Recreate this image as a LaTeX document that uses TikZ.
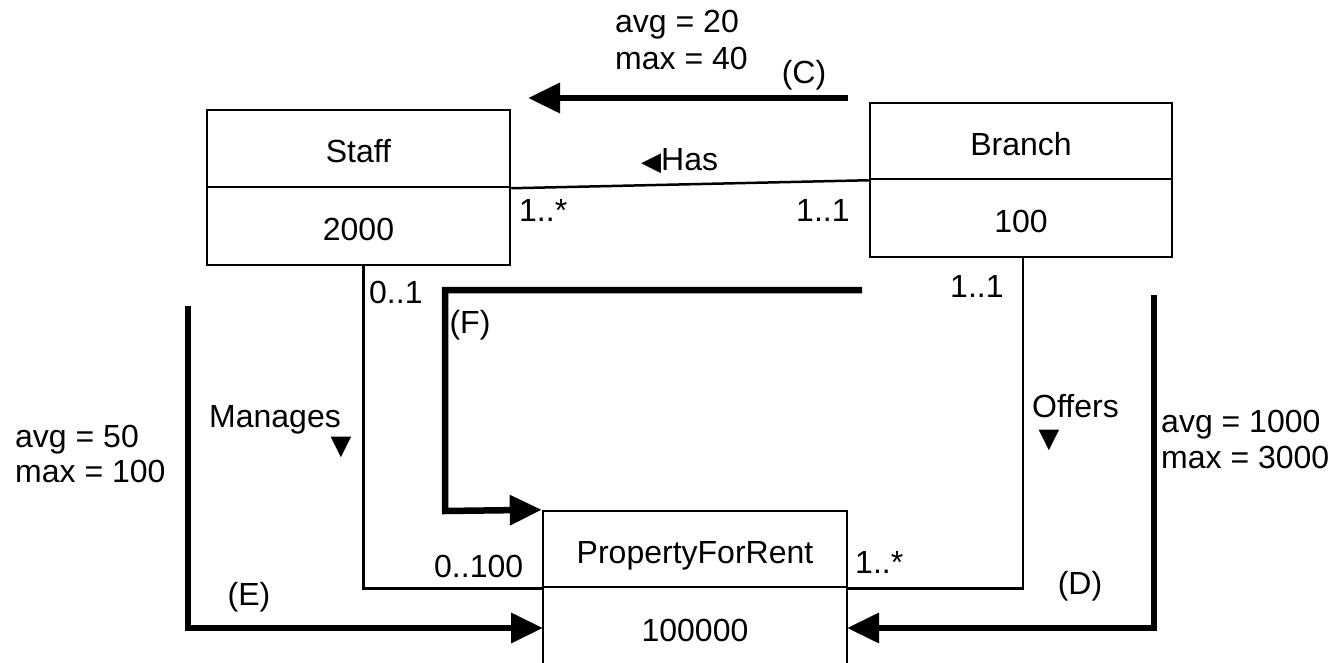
\documentclass[tikz,border=0pt]{standalone}
\usepackage{fontspec}
\setmainfont{Liberation Sans}
\newfontfamily\symf{DejaVu Sans}
\usetikzlibrary{arrows.meta,calc}
\tikzset{
  lbl/.style={inner sep=0pt, font=\fontsize{32}{36}\selectfont},
  part/.style={draw, line width=2.5pt, inner sep=0pt, minimum width=303pt,
    text height=32pt, text depth=3pt, font=\fontsize{32}{36}\selectfont},
  assoc/.style={line width=2.5pt},
  bigarrow/.style={line width=6.5pt, -{Triangle[length=32pt,width=29pt]}},
  tri/.style={inner sep=0pt, font=\symf\fontsize{27}{27}\selectfont}
}
\begin{document}
\begin{tikzpicture}[x=1pt,y=-1pt]
\useasboundingbox (0,0) rectangle (1344,663);
% classes
\node[part, minimum height=77pt] (staffT) at (358.5,148.5) {Staff};
\node[part, minimum height=78pt] (staffC) at (358.5,226) {2000};
\node[part, minimum height=76pt, minimum width=302pt] (branchT) at (1021,141) {Branch};
\node[part, minimum height=78pt, minimum width=302pt] (branchC) at (1021,218) {100};
\node[part, minimum height=76pt, minimum width=304pt] (pfrT) at (695,549) {PropertyForRent};
\node[part, minimum height=80pt, minimum width=304pt] (pfrC) at (695,627) {100000};
% associations
\draw[assoc] (staffT.south east) -- (branchT.south west);
\draw[assoc] ($(staffC.south)+(5,0)$) |- (pfrT.south west);
\draw[assoc] ($(branchC.south)+(2,0)$) |- (pfrT.south east);
% access paths
\coordinate (cS) at (848,98);
\coordinate (cE) at (528,98);
\coordinate (fS) at (862,290);
\coordinate (fC) at (445,511);
\coordinate (eS) at (188,306);
\coordinate (eT) at (543,628);
\coordinate (dS) at (1154,295);
\coordinate (dT) at (847,628);
\draw[bigarrow] (cS) -- (cE);
\draw[bigarrow] (fS) -| (fC) -- (pfrT.north west);
\draw[bigarrow] (eS) |- (eT);
\draw[bigarrow] (dS) |- (dT);
% labels
\node[lbl, anchor=base west] (avgC) at (615,33) {avg = 20};
\node[lbl, anchor=base west] (maxC) at (615,70) {max = 40};
\node[lbl] (labC) at (804,75) {(C)};
\node[lbl, anchor=base west] (has) at (641,171) {{\symf\fontsize{26}{26}\selectfont ◀}Has};
\node[lbl, anchor=base west] (m1) at (519,222) {1..*};
\node[lbl, anchor=base west] (m2) at (796,222) {1..1};
\node[lbl, anchor=base west] (m3) at (369,303) {0..1};
\node[lbl] (labF) at (470,325) {(F)};
\node[lbl, anchor=base west] (manages) at (209,427) {Manages};
\node[tri] (t1) at (341,447) {▼};
\node[lbl, anchor=base west] (avgE) at (15,447) {avg = 50};
\node[lbl, anchor=base west] (maxE) at (15,482) {max = 100};
\node[lbl, anchor=base west] (m4) at (434,577) {0..100};
\node[lbl] (labE) at (249,597) {(E)};
\node[lbl, anchor=base west] (m5) at (855,573) {1..*};
\node[lbl, anchor=base west] (m6) at (950,297) {1..1};
\node[lbl, anchor=base west] (offers) at (1032,417) {Offers};
\node[tri] (t2) at (1049,440) {▼};
\node[lbl, anchor=base west] (avgD) at (1161,432) {avg = 1000};
\node[lbl, anchor=base west] (maxD) at (1161,468) {max = 3000};
\node[lbl] (labD) at (1080,586) {(D)};
\end{tikzpicture}
\end{document}
